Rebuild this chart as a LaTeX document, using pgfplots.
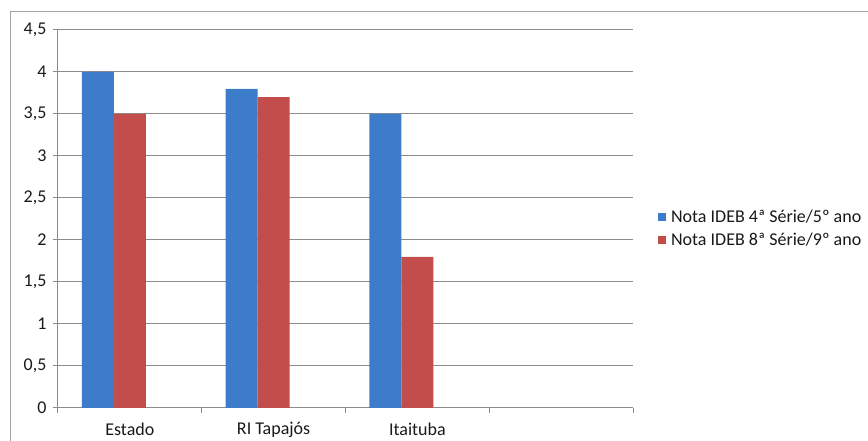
\documentclass[border=0pt]{standalone}
\usepackage{pgfplots}
\pgfplotsset{compat=1.18}
\usepackage{fontspec}
\setmainfont{Carlito}
\definecolor{bblue}{HTML}{3D7CC9}
\definecolor{bred}{HTML}{C24D4B}
\definecolor{gridc}{HTML}{8C8C8C}
\begin{document}
\begin{tikzpicture}[x=1pt,y=1pt]
\path[use as bounding box] (0,0) rectangle (868,441);
\draw[gridc!80, line width=1pt] (10,-10) -- (10,429) -- (880,429);
\begin{axis}[
  at={(58pt,33pt)}, anchor=south west,
  scale only axis, width=575pt, height=378pt,
  ymin=0, ymax=4.5, xmin=-0.5, xmax=3.5,
  axis x line*=bottom, axis y line*=left,
  axis line style={gridc, line width=1pt},
  ytick={0,0.5,1,1.5,2,2.5,3,3.5,4,4.5},
  ymajorgrids, grid style={gridc, line width=1pt},
  /pgf/number format/assume math mode=true,
  yticklabel style={/pgf/number format/.cd, use comma, fixed, /tikz/.cd, xshift=-3pt},
  xticklabel style={yshift=-6pt},
  tick label style={font=\fontsize{18}{21}\selectfont, text=black!90},
  xtick={0,1,2}, xticklabels={Estado, RI Tapajós, Itaituba},
  major x tick style={draw=none},
  y tick style={gridc, line width=1pt},
  tick align=outside, major tick length=5pt,
  extra x ticks={-0.5,0.5,1.5,2.5,3.5}, extra x tick labels={},
  extra x tick style={grid=none, major x tick style={draw=gridc, line width=1pt}, major tick length=5pt, tick align=outside},
  ybar, bar width=32pt,
  legend style={at={(1.038,0.475)}, anchor=west, draw=none, fill=none,
    font=\fontsize{18}{21}\selectfont, row sep=5pt, text=black!90,
    /tikz/every even column/.append style={column sep=0pt}},
  legend cell align=left,
  legend image code/.code={\fill[#1] (0pt,-4pt) rectangle (8pt,4pt);},
  legend style={nodes={inner xsep=5pt}},
]
\addplot[fill=bblue, draw=none, bar shift=-32pt] coordinates {(0,4.0) (1,3.8) (2,3.5)};
\addplot[fill=bred, draw=none, bar shift=0pt] coordinates {(0,3.5) (1,3.7) (2,1.8)};
\legend{Nota IDEB 4ª Série/5º ano, Nota IDEB 8ª Série/9º ano}
\end{axis}
\end{tikzpicture}
\end{document}
